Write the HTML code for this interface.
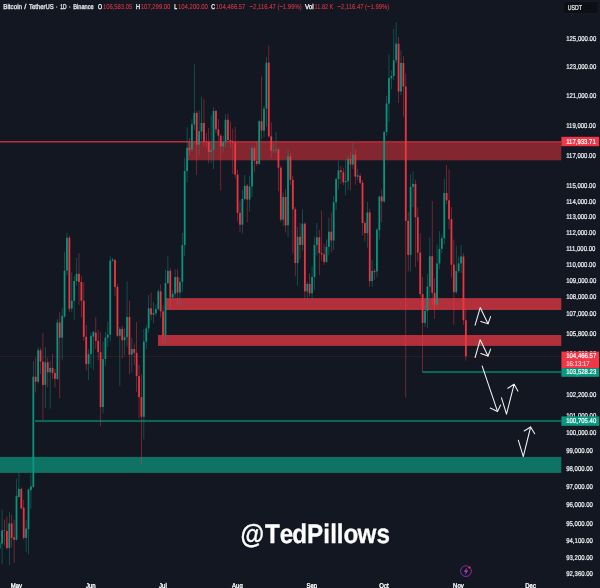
<!DOCTYPE html>
<html lang="en"><head><meta charset="utf-8"><title>Bitcoin / TetherUS - 1D - Binance</title>
<style>
html,body{margin:0;padding:0;background:#131722;}
body{width:600px;height:588px;overflow:hidden;font-family:"Liberation Sans",sans-serif;}
svg{display:block;position:absolute;left:0;top:0;}
text{font-family:"Liberation Sans",sans-serif;text-rendering:geometricPrecision;}
.ax{font-size:100px;fill:#eceef1;stroke:#eceef1;}
.lb{font-size:100px;fill:#ffffff;stroke:#ffffff;}
.hd{font-size:100px;fill:#f4f5f7;stroke:#f4f5f7;}
.hr{font-size:100px;fill:#dd3848;stroke:#dd3848;}
.mo{font-size:100px;fill:#f6f7f9;stroke:#f6f7f9;}
.wm{font-size:26.9px;font-weight:bold;fill:#ffffff;stroke:#ffffff;stroke-width:0.3px;}
</style></head><body>
<svg width="600" height="588" viewBox="0 0 600 588">
<rect x="0" y="0" width="600" height="588" fill="#131722"/>
<g id="zones">
<rect x="188" y="141.2" width="373.3" height="19.1" fill="#84262f"/>
<rect x="0" y="141.05" width="188.0" height="1.45" fill="#c4303e"/>
<rect x="188" y="141.05" width="373.3" height="1.7" fill="#a52c38"/>
<rect x="166" y="298.1" width="395.3" height="11.9" fill="#b2303b"/>
<rect x="158" y="335" width="403.3" height="10.9" fill="#b2303b"/>
<rect x="0" y="456.9" width="561.3" height="16" fill="#0e7364"/>
<rect x="35.2" y="419.95" width="526.1" height="2.1" fill="#0c6658"/>
<rect x="422.3" y="371.0" width="139.0" height="2.1" fill="#0c6658"/>
<rect x="0" y="355.95" width="561.3" height="0.7" fill="#f23645" opacity="0.2"/>
</g>
<g id="candles">
<g opacity="0.6"><rect x="-0.67" y="540.0" width="0.7" height="12.0" fill="#089981"/><rect x="1.73" y="509.6" width="0.7" height="54.1" fill="#089981"/><rect x="4.13" y="519.7" width="0.7" height="25.7" fill="#F23645"/><rect x="6.54" y="516.5" width="0.7" height="33.3" fill="#F23645"/><rect x="8.94" y="512.1" width="0.7" height="52.9" fill="#089981"/><rect x="11.34" y="514.7" width="0.7" height="32.6" fill="#F23645"/><rect x="13.75" y="519.7" width="0.7" height="43.3" fill="#F23645"/><rect x="16.15" y="478.8" width="0.7" height="61.7" fill="#089981"/><rect x="18.55" y="472.0" width="0.7" height="25.5" fill="#089981"/><rect x="20.95" y="487.5" width="0.7" height="21.5" fill="#F23645"/><rect x="23.36" y="499.6" width="0.7" height="40.2" fill="#F23645"/><rect x="25.76" y="519.7" width="0.7" height="32.0" fill="#089981"/><rect x="28.16" y="488.5" width="0.7" height="65.8" fill="#089981"/><rect x="30.57" y="473.8" width="0.7" height="35.2" fill="#089981"/><rect x="32.97" y="361.0" width="0.7" height="127.0" fill="#089981"/><rect x="35.37" y="357.8" width="0.7" height="34.6" fill="#F23645"/><rect x="37.77" y="347.2" width="0.7" height="36.4" fill="#089981"/><rect x="40.18" y="347.8" width="0.7" height="26.4" fill="#F23645"/><rect x="42.58" y="332.7" width="0.7" height="87.2" fill="#F23645"/><rect x="44.98" y="347.2" width="0.7" height="60.8" fill="#089981"/><rect x="47.39" y="357.8" width="0.7" height="29.6" fill="#F23645"/><rect x="49.79" y="361.0" width="0.7" height="47.6" fill="#089981"/><rect x="52.19" y="354.0" width="0.7" height="25.2" fill="#F23645"/><rect x="54.60" y="369.0" width="0.7" height="18.4" fill="#F23645"/><rect x="57.00" y="319.0" width="0.7" height="61.0" fill="#089981"/><rect x="59.40" y="312.2" width="0.7" height="85.8" fill="#F23645"/><rect x="61.80" y="307.7" width="0.7" height="52.7" fill="#089981"/><rect x="64.21" y="251.8" width="0.7" height="66.2" fill="#089981"/><rect x="66.61" y="232.7" width="0.7" height="42.3" fill="#089981"/><rect x="69.01" y="235.8" width="0.7" height="76.2" fill="#F23645"/><rect x="71.42" y="272.5" width="0.7" height="39.5" fill="#089981"/><rect x="73.82" y="276.0" width="0.7" height="43.7" fill="#089981"/><rect x="76.22" y="258.0" width="0.7" height="27.7" fill="#089981"/><rect x="78.63" y="253.0" width="0.7" height="51.6" fill="#F23645"/><rect x="81.03" y="276.3" width="0.7" height="40.9" fill="#F23645"/><rect x="83.43" y="282.6" width="0.7" height="58.3" fill="#F23645"/><rect x="85.84" y="325.0" width="0.7" height="45.4" fill="#F23645"/><rect x="88.24" y="349.0" width="0.7" height="30.9" fill="#089981"/><rect x="90.64" y="332.7" width="0.7" height="35.2" fill="#089981"/><rect x="93.04" y="330.8" width="0.7" height="39.0" fill="#089981"/><rect x="95.45" y="317.2" width="0.7" height="31.8" fill="#F23645"/><rect x="97.85" y="330.2" width="0.7" height="30.2" fill="#F23645"/><rect x="100.25" y="332.0" width="0.7" height="94.2" fill="#F23645"/><rect x="102.66" y="341.5" width="0.7" height="72.1" fill="#089981"/><rect x="105.06" y="332.0" width="0.7" height="34.0" fill="#089981"/><rect x="107.46" y="322.0" width="0.7" height="25.2" fill="#089981"/><rect x="109.87" y="256.2" width="0.7" height="85.3" fill="#089981"/><rect x="112.27" y="258.0" width="0.7" height="4.0" fill="#089981"/><rect x="114.67" y="258.5" width="0.7" height="37.3" fill="#F23645"/><rect x="117.07" y="283.8" width="0.7" height="53.2" fill="#F23645"/><rect x="119.48" y="327.0" width="0.7" height="59.2" fill="#089981"/><rect x="121.88" y="325.8" width="0.7" height="32.7" fill="#F23645"/><rect x="124.28" y="328.3" width="0.7" height="27.0" fill="#089981"/><rect x="126.69" y="281.3" width="0.7" height="65.2" fill="#089981"/><rect x="129.09" y="300.8" width="0.7" height="73.4" fill="#F23645"/><rect x="131.49" y="337.7" width="0.7" height="34.6" fill="#089981"/><rect x="133.90" y="343.4" width="0.7" height="21.4" fill="#F23645"/><rect x="136.30" y="322.0" width="0.7" height="69.8" fill="#F23645"/><rect x="138.70" y="364.8" width="0.7" height="53.2" fill="#F23645"/><rect x="141.10" y="374.2" width="0.7" height="91.0" fill="#F23645"/><rect x="143.51" y="329.0" width="0.7" height="110.4" fill="#089981"/><rect x="145.91" y="325.3" width="0.7" height="23.9" fill="#089981"/><rect x="148.31" y="295.0" width="0.7" height="37.8" fill="#089981"/><rect x="150.72" y="292.6" width="0.7" height="27.6" fill="#F23645"/><rect x="153.12" y="302.0" width="0.7" height="21.4" fill="#089981"/><rect x="155.52" y="304.5" width="0.7" height="11.3" fill="#089981"/><rect x="157.93" y="288.8" width="0.7" height="21.2" fill="#089981"/><rect x="160.33" y="284.4" width="0.7" height="33.3" fill="#F23645"/><rect x="162.73" y="305.2" width="0.7" height="37.8" fill="#F23645"/><rect x="165.13" y="269.5" width="0.7" height="74.5" fill="#089981"/><rect x="167.54" y="256.3" width="0.7" height="27.7" fill="#089981"/><rect x="169.94" y="268.3" width="0.7" height="40.7" fill="#F23645"/><rect x="172.34" y="290.0" width="0.7" height="10.0" fill="#089981"/><rect x="174.75" y="269.5" width="0.7" height="28.5" fill="#089981"/><rect x="177.15" y="269.5" width="0.7" height="35.0" fill="#F23645"/><rect x="179.55" y="278.0" width="0.7" height="27.8" fill="#089981"/><rect x="181.96" y="233.0" width="0.7" height="59.0" fill="#089981"/><rect x="184.36" y="157.8" width="0.7" height="98.5" fill="#089981"/><rect x="186.76" y="127.4" width="0.7" height="54.9" fill="#089981"/><rect x="189.16" y="138.0" width="0.7" height="17.0" fill="#F23645"/><rect x="191.57" y="119.2" width="0.7" height="32.8" fill="#089981"/><rect x="193.97" y="64.3" width="0.7" height="65.7" fill="#089981"/><rect x="196.37" y="111.0" width="0.7" height="63.8" fill="#F23645"/><rect x="198.78" y="110.4" width="0.7" height="44.9" fill="#089981"/><rect x="201.18" y="96.6" width="0.7" height="43.4" fill="#089981"/><rect x="203.58" y="99.1" width="0.7" height="46.9" fill="#F23645"/><rect x="205.99" y="133.0" width="0.7" height="14.0" fill="#F23645"/><rect x="208.39" y="128.0" width="0.7" height="35.4" fill="#F23645"/><rect x="210.79" y="115.4" width="0.7" height="47.4" fill="#089981"/><rect x="213.19" y="107.3" width="0.7" height="61.8" fill="#089981"/><rect x="215.60" y="109.5" width="0.7" height="23.5" fill="#F23645"/><rect x="218.00" y="119.2" width="0.7" height="21.4" fill="#F23645"/><rect x="220.40" y="134.3" width="0.7" height="56.2" fill="#F23645"/><rect x="222.81" y="135.6" width="0.7" height="17.2" fill="#089981"/><rect x="225.21" y="114.2" width="0.7" height="32.8" fill="#089981"/><rect x="227.61" y="113.6" width="0.7" height="29.4" fill="#F23645"/><rect x="230.02" y="121.7" width="0.7" height="26.3" fill="#F23645"/><rect x="232.42" y="128.7" width="0.7" height="45.4" fill="#F23645"/><rect x="234.82" y="126.8" width="0.7" height="51.5" fill="#F23645"/><rect x="237.22" y="169.7" width="0.7" height="51.9" fill="#F23645"/><rect x="239.63" y="200.8" width="0.7" height="31.5" fill="#F23645"/><rect x="242.03" y="189.5" width="0.7" height="44.0" fill="#089981"/><rect x="244.43" y="175.0" width="0.7" height="25.0" fill="#089981"/><rect x="246.84" y="184.0" width="0.7" height="38.2" fill="#F23645"/><rect x="249.24" y="175.7" width="0.7" height="35.8" fill="#089981"/><rect x="251.64" y="145.7" width="0.7" height="51.3" fill="#089981"/><rect x="254.05" y="146.5" width="0.7" height="25.5" fill="#F23645"/><rect x="256.45" y="142.0" width="0.7" height="23.8" fill="#F23645"/><rect x="258.85" y="120.0" width="0.7" height="45.0" fill="#089981"/><rect x="261.25" y="76.5" width="0.7" height="62.9" fill="#F23645"/><rect x="263.66" y="106.0" width="0.7" height="31.5" fill="#089981"/><rect x="266.06" y="57.0" width="0.7" height="69.8" fill="#089981"/><rect x="268.46" y="45.7" width="0.7" height="92.3" fill="#F23645"/><rect x="270.87" y="122.4" width="0.7" height="35.9" fill="#F23645"/><rect x="273.27" y="142.5" width="0.7" height="10.7" fill="#089981"/><rect x="275.67" y="131.8" width="0.7" height="21.2" fill="#089981"/><rect x="278.07" y="148.0" width="0.7" height="43.4" fill="#F23645"/><rect x="280.48" y="166.0" width="0.7" height="56.0" fill="#F23645"/><rect x="282.88" y="192.6" width="0.7" height="33.4" fill="#089981"/><rect x="285.28" y="188.9" width="0.7" height="43.4" fill="#F23645"/><rect x="287.69" y="149.5" width="0.7" height="87.8" fill="#089981"/><rect x="290.09" y="153.2" width="0.7" height="31.8" fill="#F23645"/><rect x="292.49" y="176.0" width="0.7" height="77.7" fill="#F23645"/><rect x="294.90" y="207.0" width="0.7" height="69.3" fill="#F23645"/><rect x="297.30" y="227.0" width="0.7" height="58.8" fill="#089981"/><rect x="299.70" y="223.0" width="0.7" height="35.7" fill="#F23645"/><rect x="302.10" y="209.3" width="0.7" height="41.2" fill="#089981"/><rect x="304.51" y="222.0" width="0.7" height="78.0" fill="#F23645"/><rect x="306.91" y="282.0" width="0.7" height="18.0" fill="#089981"/><rect x="309.31" y="273.2" width="0.7" height="23.3" fill="#F23645"/><rect x="311.72" y="266.3" width="0.7" height="33.7" fill="#089981"/><rect x="314.12" y="236.7" width="0.7" height="53.5" fill="#089981"/><rect x="316.52" y="223.1" width="0.7" height="32.5" fill="#089981"/><rect x="318.93" y="229.8" width="0.7" height="45.3" fill="#F23645"/><rect x="321.33" y="210.5" width="0.7" height="50.1" fill="#F23645"/><rect x="323.73" y="244.2" width="0.7" height="20.8" fill="#F23645"/><rect x="326.13" y="239.2" width="0.7" height="23.8" fill="#089981"/><rect x="328.54" y="217.4" width="0.7" height="37.6" fill="#089981"/><rect x="330.94" y="212.4" width="0.7" height="40.0" fill="#F23645"/><rect x="333.34" y="196.0" width="0.7" height="54.0" fill="#089981"/><rect x="335.75" y="177.5" width="0.7" height="32.4" fill="#089981"/><rect x="338.15" y="160.9" width="0.7" height="28.8" fill="#089981"/><rect x="340.55" y="165.9" width="0.7" height="18.2" fill="#F23645"/><rect x="342.96" y="167.8" width="0.7" height="17.2" fill="#F23645"/><rect x="345.36" y="159.6" width="0.7" height="35.8" fill="#089981"/><rect x="347.76" y="155.5" width="0.7" height="34.2" fill="#089981"/><rect x="350.16" y="151.5" width="0.7" height="38.9" fill="#F23645"/><rect x="352.57" y="142.7" width="0.7" height="26.3" fill="#089981"/><rect x="354.97" y="149.0" width="0.7" height="35.7" fill="#F23645"/><rect x="357.37" y="168.7" width="0.7" height="11.6" fill="#089981"/><rect x="359.78" y="173.4" width="0.7" height="10.6" fill="#F23645"/><rect x="362.18" y="180.0" width="0.7" height="55.6" fill="#F23645"/><rect x="364.58" y="221.0" width="0.7" height="20.4" fill="#F23645"/><rect x="366.99" y="202.0" width="0.7" height="45.7" fill="#089981"/><rect x="369.39" y="209.0" width="0.7" height="77.7" fill="#F23645"/><rect x="371.79" y="260.3" width="0.7" height="26.4" fill="#089981"/><rect x="374.19" y="269.0" width="0.7" height="10.8" fill="#F23645"/><rect x="376.60" y="228.0" width="0.7" height="49.3" fill="#089981"/><rect x="379.00" y="196.4" width="0.7" height="43.1" fill="#089981"/><rect x="381.40" y="189.5" width="0.7" height="32.7" fill="#F23645"/><rect x="383.81" y="131.0" width="0.7" height="72.0" fill="#089981"/><rect x="386.21" y="96.0" width="0.7" height="39.7" fill="#089981"/><rect x="388.61" y="54.0" width="0.7" height="67.7" fill="#089981"/><rect x="391.02" y="70.4" width="0.7" height="18.6" fill="#089981"/><rect x="393.42" y="28.9" width="0.7" height="51.1" fill="#089981"/><rect x="395.82" y="22.0" width="0.7" height="41.0" fill="#089981"/><rect x="398.22" y="37.0" width="0.7" height="65.9" fill="#F23645"/><rect x="400.63" y="50.3" width="0.7" height="45.0" fill="#089981"/><rect x="403.03" y="56.0" width="0.7" height="60.7" fill="#F23645"/><rect x="405.43" y="73.5" width="0.7" height="324.3" fill="#F23645"/><rect x="407.84" y="212.0" width="0.7" height="59.6" fill="#F23645"/><rect x="410.24" y="174.4" width="0.7" height="97.2" fill="#089981"/><rect x="412.64" y="171.3" width="0.7" height="35.7" fill="#089981"/><rect x="415.05" y="179.7" width="0.7" height="87.2" fill="#F23645"/><rect x="417.45" y="207.4" width="0.7" height="54.4" fill="#F23645"/><rect x="419.85" y="233.2" width="0.7" height="63.8" fill="#F23645"/><rect x="422.25" y="277.1" width="0.7" height="94.9" fill="#F23645"/><rect x="424.66" y="305.0" width="0.7" height="22.0" fill="#089981"/><rect x="427.06" y="274.0" width="0.7" height="53.9" fill="#089981"/><rect x="429.46" y="237.3" width="0.7" height="60.4" fill="#089981"/><rect x="431.87" y="201.1" width="0.7" height="104.8" fill="#F23645"/><rect x="434.27" y="278.3" width="0.7" height="40.7" fill="#F23645"/><rect x="436.67" y="244.5" width="0.7" height="61.5" fill="#089981"/><rect x="439.08" y="231.2" width="0.7" height="37.8" fill="#089981"/><rect x="441.48" y="234.5" width="0.7" height="18.8" fill="#089981"/><rect x="443.88" y="178.9" width="0.7" height="65.6" fill="#089981"/><rect x="446.28" y="165.0" width="0.7" height="39.0" fill="#F23645"/><rect x="448.69" y="169.4" width="0.7" height="59.8" fill="#F23645"/><rect x="451.09" y="207.2" width="0.7" height="70.5" fill="#F23645"/><rect x="453.49" y="239.5" width="0.7" height="85.2" fill="#F23645"/><rect x="455.90" y="245.8" width="0.7" height="48.2" fill="#089981"/><rect x="458.30" y="256.5" width="0.7" height="16.4" fill="#089981"/><rect x="460.70" y="245.2" width="0.7" height="27.7" fill="#089981"/><rect x="463.11" y="253.3" width="0.7" height="71.7" fill="#F23645"/><rect x="465.51" y="308.3" width="0.7" height="52.3" fill="#F23645"/></g>
<g opacity="0.95"><rect x="-1.22" y="543.0" width="1.8" height="5.3" fill="#089981"/><rect x="1.18" y="530.4" width="1.8" height="13.2" fill="#089981"/><rect x="3.58" y="530.3" width="1.8" height="0.6" fill="#F23645"/><rect x="5.99" y="531.0" width="1.8" height="17.0" fill="#F23645"/><rect x="8.39" y="523.4" width="1.8" height="24.6" fill="#089981"/><rect x="10.79" y="523.4" width="1.8" height="14.5" fill="#F23645"/><rect x="13.20" y="537.3" width="1.8" height="2.5" fill="#F23645"/><rect x="15.60" y="495.8" width="1.8" height="44.0" fill="#089981"/><rect x="18.00" y="488.9" width="1.8" height="8.1" fill="#089981"/><rect x="20.40" y="488.9" width="1.8" height="19.5" fill="#F23645"/><rect x="22.81" y="507.7" width="1.8" height="30.2" fill="#F23645"/><rect x="25.21" y="528.5" width="1.8" height="9.4" fill="#089981"/><rect x="27.61" y="489.5" width="1.8" height="39.6" fill="#089981"/><rect x="30.02" y="486.4" width="1.8" height="3.7" fill="#089981"/><rect x="32.42" y="376.7" width="1.8" height="110.3" fill="#089981"/><rect x="34.82" y="376.7" width="1.8" height="5.0" fill="#F23645"/><rect x="37.23" y="350.3" width="1.8" height="31.4" fill="#089981"/><rect x="39.63" y="350.3" width="1.8" height="11.3" fill="#F23645"/><rect x="42.03" y="361.6" width="1.8" height="23.3" fill="#F23645"/><rect x="44.43" y="362.3" width="1.8" height="22.6" fill="#089981"/><rect x="46.84" y="362.3" width="1.8" height="10.0" fill="#F23645"/><rect x="49.24" y="367.9" width="1.8" height="4.4" fill="#089981"/><rect x="51.64" y="367.9" width="1.8" height="5.1" fill="#F23645"/><rect x="54.05" y="373.0" width="1.8" height="5.9" fill="#F23645"/><rect x="56.45" y="322.5" width="1.8" height="56.4" fill="#089981"/><rect x="58.85" y="322.5" width="1.8" height="15.2" fill="#F23645"/><rect x="61.26" y="315.9" width="1.8" height="21.8" fill="#089981"/><rect x="63.66" y="270.6" width="1.8" height="46.0" fill="#089981"/><rect x="66.06" y="237.7" width="1.8" height="32.9" fill="#089981"/><rect x="68.46" y="237.7" width="1.8" height="71.3" fill="#F23645"/><rect x="70.87" y="300.8" width="1.8" height="7.6" fill="#089981"/><rect x="73.27" y="281.0" width="1.8" height="19.8" fill="#089981"/><rect x="75.67" y="273.8" width="1.8" height="7.2" fill="#089981"/><rect x="78.08" y="273.8" width="1.8" height="8.2" fill="#F23645"/><rect x="80.48" y="282.0" width="1.8" height="18.8" fill="#F23645"/><rect x="82.88" y="300.8" width="1.8" height="36.0" fill="#F23645"/><rect x="85.28" y="336.8" width="1.8" height="27.3" fill="#F23645"/><rect x="87.69" y="354.1" width="1.8" height="10.0" fill="#089981"/><rect x="90.09" y="335.8" width="1.8" height="18.3" fill="#089981"/><rect x="92.49" y="332.0" width="1.8" height="4.5" fill="#089981"/><rect x="94.90" y="332.7" width="1.8" height="8.2" fill="#F23645"/><rect x="97.30" y="340.9" width="1.8" height="11.3" fill="#F23645"/><rect x="99.70" y="352.2" width="1.8" height="54.9" fill="#F23645"/><rect x="102.11" y="359.1" width="1.8" height="48.0" fill="#089981"/><rect x="104.51" y="337.7" width="1.8" height="21.4" fill="#089981"/><rect x="106.91" y="334.6" width="1.8" height="3.1" fill="#089981"/><rect x="109.31" y="260.6" width="1.8" height="74.0" fill="#089981"/><rect x="111.72" y="259.5" width="1.8" height="1.1" fill="#089981"/><rect x="114.12" y="260.0" width="1.8" height="27.0" fill="#F23645"/><rect x="116.52" y="287.0" width="1.8" height="48.8" fill="#F23645"/><rect x="118.93" y="328.9" width="1.8" height="6.9" fill="#089981"/><rect x="121.33" y="328.9" width="1.8" height="11.3" fill="#F23645"/><rect x="123.73" y="337.1" width="1.8" height="3.1" fill="#089981"/><rect x="126.14" y="316.9" width="1.8" height="20.2" fill="#089981"/><rect x="128.54" y="316.9" width="1.8" height="37.8" fill="#F23645"/><rect x="130.94" y="349.0" width="1.8" height="5.7" fill="#089981"/><rect x="133.34" y="349.0" width="1.8" height="3.8" fill="#F23645"/><rect x="135.75" y="352.8" width="1.8" height="23.3" fill="#F23645"/><rect x="138.15" y="376.1" width="1.8" height="20.9" fill="#F23645"/><rect x="140.55" y="397.0" width="1.8" height="19.8" fill="#F23645"/><rect x="142.96" y="341.6" width="1.8" height="75.2" fill="#089981"/><rect x="145.36" y="328.4" width="1.8" height="13.2" fill="#089981"/><rect x="147.76" y="308.3" width="1.8" height="20.1" fill="#089981"/><rect x="150.17" y="308.3" width="1.8" height="6.3" fill="#F23645"/><rect x="152.57" y="313.0" width="1.8" height="1.6" fill="#089981"/><rect x="154.97" y="309.0" width="1.8" height="4.3" fill="#089981"/><rect x="157.38" y="291.3" width="1.8" height="17.7" fill="#089981"/><rect x="159.78" y="291.3" width="1.8" height="20.1" fill="#F23645"/><rect x="162.18" y="311.4" width="1.8" height="23.9" fill="#F23645"/><rect x="164.58" y="283.1" width="1.8" height="52.2" fill="#089981"/><rect x="166.99" y="270.8" width="1.8" height="12.3" fill="#089981"/><rect x="169.39" y="270.8" width="1.8" height="26.8" fill="#F23645"/><rect x="171.79" y="293.8" width="1.8" height="3.8" fill="#089981"/><rect x="174.20" y="277.0" width="1.8" height="16.8" fill="#089981"/><rect x="176.60" y="277.0" width="1.8" height="15.6" fill="#F23645"/><rect x="179.00" y="281.9" width="1.8" height="10.7" fill="#089981"/><rect x="181.41" y="245.0" width="1.8" height="36.9" fill="#089981"/><rect x="183.81" y="171.0" width="1.8" height="74.0" fill="#089981"/><rect x="186.21" y="147.8" width="1.8" height="23.2" fill="#089981"/><rect x="188.61" y="147.8" width="1.8" height="2.0" fill="#F23645"/><rect x="191.02" y="124.3" width="1.8" height="25.1" fill="#089981"/><rect x="193.42" y="112.9" width="1.8" height="11.7" fill="#089981"/><rect x="195.82" y="112.9" width="1.8" height="31.7" fill="#F23645"/><rect x="198.23" y="131.2" width="1.8" height="13.4" fill="#089981"/><rect x="200.63" y="123.0" width="1.8" height="8.5" fill="#089981"/><rect x="203.03" y="123.0" width="1.8" height="18.9" fill="#F23645"/><rect x="205.44" y="141.9" width="1.8" height="0.6" fill="#F23645"/><rect x="207.84" y="141.9" width="1.8" height="10.1" fill="#F23645"/><rect x="210.24" y="150.2" width="1.8" height="1.8" fill="#089981"/><rect x="212.64" y="111.0" width="1.8" height="39.2" fill="#089981"/><rect x="215.05" y="111.0" width="1.8" height="18.3" fill="#F23645"/><rect x="217.45" y="129.3" width="1.8" height="6.3" fill="#F23645"/><rect x="219.85" y="135.6" width="1.8" height="10.8" fill="#F23645"/><rect x="222.26" y="142.0" width="1.8" height="4.4" fill="#089981"/><rect x="224.66" y="119.8" width="1.8" height="22.2" fill="#089981"/><rect x="227.06" y="119.8" width="1.8" height="20.2" fill="#F23645"/><rect x="229.47" y="140.0" width="1.8" height="1.2" fill="#F23645"/><rect x="231.87" y="141.2" width="1.8" height="1.3" fill="#F23645"/><rect x="234.27" y="142.5" width="1.8" height="32.1" fill="#F23645"/><rect x="236.67" y="174.6" width="1.8" height="38.2" fill="#F23645"/><rect x="239.08" y="212.8" width="1.8" height="11.9" fill="#F23645"/><rect x="241.48" y="198.9" width="1.8" height="25.8" fill="#089981"/><rect x="243.88" y="185.7" width="1.8" height="13.2" fill="#089981"/><rect x="246.29" y="185.7" width="1.8" height="13.9" fill="#F23645"/><rect x="248.69" y="186.4" width="1.8" height="13.2" fill="#089981"/><rect x="251.09" y="148.2" width="1.8" height="38.2" fill="#089981"/><rect x="253.50" y="148.2" width="1.8" height="12.6" fill="#F23645"/><rect x="255.90" y="160.8" width="1.8" height="3.1" fill="#F23645"/><rect x="258.30" y="121.2" width="1.8" height="42.7" fill="#089981"/><rect x="260.70" y="121.2" width="1.8" height="9.4" fill="#F23645"/><rect x="263.11" y="108.6" width="1.8" height="22.0" fill="#089981"/><rect x="265.51" y="62.7" width="1.8" height="45.9" fill="#089981"/><rect x="267.91" y="62.7" width="1.8" height="73.6" fill="#F23645"/><rect x="270.32" y="136.3" width="1.8" height="14.4" fill="#F23645"/><rect x="272.72" y="150.0" width="1.8" height="0.8" fill="#089981"/><rect x="275.12" y="149.5" width="1.8" height="1.0" fill="#089981"/><rect x="277.53" y="149.5" width="1.8" height="18.2" fill="#F23645"/><rect x="279.93" y="167.7" width="1.8" height="52.0" fill="#F23645"/><rect x="282.33" y="197.0" width="1.8" height="22.7" fill="#089981"/><rect x="284.73" y="197.0" width="1.8" height="28.3" fill="#F23645"/><rect x="287.14" y="156.4" width="1.8" height="68.9" fill="#089981"/><rect x="289.54" y="156.4" width="1.8" height="23.4" fill="#F23645"/><rect x="291.94" y="179.8" width="1.8" height="29.5" fill="#F23645"/><rect x="294.35" y="209.3" width="1.8" height="53.8" fill="#F23645"/><rect x="296.75" y="236.7" width="1.8" height="26.4" fill="#089981"/><rect x="299.15" y="236.7" width="1.8" height="8.2" fill="#F23645"/><rect x="301.56" y="223.7" width="1.8" height="21.2" fill="#089981"/><rect x="303.96" y="223.7" width="1.8" height="67.7" fill="#F23645"/><rect x="306.36" y="283.9" width="1.8" height="7.5" fill="#089981"/><rect x="308.76" y="283.9" width="1.8" height="9.4" fill="#F23645"/><rect x="311.17" y="277.0" width="1.8" height="16.3" fill="#089981"/><rect x="313.57" y="244.9" width="1.8" height="32.1" fill="#089981"/><rect x="315.97" y="237.3" width="1.8" height="7.6" fill="#089981"/><rect x="318.38" y="237.3" width="1.8" height="15.8" fill="#F23645"/><rect x="320.78" y="253.1" width="1.8" height="1.2" fill="#F23645"/><rect x="323.18" y="254.3" width="1.8" height="7.6" fill="#F23645"/><rect x="325.59" y="246.8" width="1.8" height="15.1" fill="#089981"/><rect x="327.99" y="231.7" width="1.8" height="15.1" fill="#089981"/><rect x="330.39" y="231.7" width="1.8" height="8.8" fill="#F23645"/><rect x="332.79" y="202.3" width="1.8" height="38.2" fill="#089981"/><rect x="335.20" y="179.0" width="1.8" height="23.3" fill="#089981"/><rect x="337.60" y="170.3" width="1.8" height="8.7" fill="#089981"/><rect x="340.00" y="170.3" width="1.8" height="1.9" fill="#F23645"/><rect x="342.41" y="172.2" width="1.8" height="10.1" fill="#F23645"/><rect x="344.81" y="181.0" width="1.8" height="1.3" fill="#089981"/><rect x="347.21" y="159.0" width="1.8" height="22.3" fill="#089981"/><rect x="349.62" y="159.0" width="1.8" height="5.6" fill="#F23645"/><rect x="352.02" y="154.6" width="1.8" height="10.0" fill="#089981"/><rect x="354.42" y="154.6" width="1.8" height="22.0" fill="#F23645"/><rect x="356.82" y="175.3" width="1.8" height="1.3" fill="#089981"/><rect x="359.23" y="175.8" width="1.8" height="6.9" fill="#F23645"/><rect x="361.63" y="182.7" width="1.8" height="40.3" fill="#F23645"/><rect x="364.03" y="223.0" width="1.8" height="10.2" fill="#F23645"/><rect x="366.44" y="212.4" width="1.8" height="20.8" fill="#089981"/><rect x="368.84" y="212.4" width="1.8" height="68.7" fill="#F23645"/><rect x="371.24" y="271.0" width="1.8" height="10.1" fill="#089981"/><rect x="373.65" y="271.0" width="1.8" height="1.2" fill="#F23645"/><rect x="376.05" y="229.7" width="1.8" height="41.8" fill="#089981"/><rect x="378.45" y="196.4" width="1.8" height="33.6" fill="#089981"/><rect x="380.85" y="196.4" width="1.8" height="5.0" fill="#F23645"/><rect x="383.26" y="131.9" width="1.8" height="69.5" fill="#089981"/><rect x="385.66" y="103.5" width="1.8" height="28.4" fill="#089981"/><rect x="388.06" y="78.0" width="1.8" height="25.5" fill="#089981"/><rect x="390.47" y="76.0" width="1.8" height="2.3" fill="#089981"/><rect x="392.87" y="60.3" width="1.8" height="15.7" fill="#089981"/><rect x="395.27" y="43.7" width="1.8" height="16.6" fill="#089981"/><rect x="397.68" y="43.7" width="1.8" height="47.8" fill="#F23645"/><rect x="400.08" y="62.9" width="1.8" height="28.6" fill="#089981"/><rect x="402.48" y="62.9" width="1.8" height="23.6" fill="#F23645"/><rect x="404.88" y="86.5" width="1.8" height="134.4" fill="#F23645"/><rect x="407.29" y="220.9" width="1.8" height="34.0" fill="#F23645"/><rect x="409.69" y="186.9" width="1.8" height="68.0" fill="#089981"/><rect x="412.09" y="183.9" width="1.8" height="3.0" fill="#089981"/><rect x="414.50" y="183.9" width="1.8" height="33.3" fill="#F23645"/><rect x="416.90" y="217.2" width="1.8" height="35.5" fill="#F23645"/><rect x="419.30" y="252.7" width="1.8" height="41.4" fill="#F23645"/><rect x="421.70" y="294.1" width="1.8" height="28.8" fill="#F23645"/><rect x="424.11" y="310.9" width="1.8" height="12.0" fill="#089981"/><rect x="426.51" y="286.6" width="1.8" height="24.3" fill="#089981"/><rect x="428.91" y="256.2" width="1.8" height="30.4" fill="#089981"/><rect x="431.32" y="256.2" width="1.8" height="36.6" fill="#F23645"/><rect x="433.72" y="292.8" width="1.8" height="11.8" fill="#F23645"/><rect x="436.12" y="263.4" width="1.8" height="41.2" fill="#089981"/><rect x="438.53" y="248.9" width="1.8" height="14.5" fill="#089981"/><rect x="440.93" y="238.2" width="1.8" height="10.7" fill="#089981"/><rect x="443.33" y="193.0" width="1.8" height="45.2" fill="#089981"/><rect x="445.74" y="193.0" width="1.8" height="7.3" fill="#F23645"/><rect x="448.14" y="200.3" width="1.8" height="18.8" fill="#F23645"/><rect x="450.54" y="219.1" width="1.8" height="45.6" fill="#F23645"/><rect x="452.94" y="264.7" width="1.8" height="27.5" fill="#F23645"/><rect x="455.35" y="271.1" width="1.8" height="21.1" fill="#089981"/><rect x="457.75" y="263.4" width="1.8" height="7.7" fill="#089981"/><rect x="460.15" y="256.5" width="1.8" height="6.9" fill="#089981"/><rect x="462.56" y="256.5" width="1.8" height="63.8" fill="#F23645"/><rect x="464.96" y="320.3" width="1.8" height="36.0" fill="#F23645"/></g>
</g>
<g id="arrows" fill="none" stroke="#f4f4f6" stroke-width="1.05" stroke-linecap="round" stroke-linejoin="round">
<polyline points="475.1,325.2 480.2,307.6 488,323.7"/>
<polyline points="480.8,321.4 488,323.7 490.6,316.6"/>
<polyline points="475.1,357.5 480.2,339.7 488,356"/>
<polyline points="480.8,353.5 488,356 490.6,349.1"/>
<polyline points="482.2,366.1 497.5,411.4"/>
<polyline points="490.2,408.1 497.5,411.4 500.6,405"/>
<polyline points="501.5,397.8 506.5,414.1 514.1,384.3"/>
<polyline points="507.8,388.3 514.1,384.3 517.9,391.1"/>
<polyline points="518.3,440.2 523.3,456.6 530.6,427"/>
<polyline points="524.2,431 530.6,427 534.7,433.7"/>
</g>
<g id="axis">
<text class="ax" transform="translate(566.20 40.85) scale(0.06000 0.07000)" stroke-width="3.4">125,000.00</text>
<text class="ax" transform="translate(566.20 69.35) scale(0.06000 0.07000)" stroke-width="3.4">123,000.00</text>
<text class="ax" transform="translate(566.20 98.31) scale(0.06000 0.07000)" stroke-width="3.4">121,000.00</text>
<text class="ax" transform="translate(566.20 127.77) scale(0.06000 0.07000)" stroke-width="3.4">119,000.00</text>
<text class="ax" transform="translate(566.20 157.72) scale(0.06000 0.07000)" stroke-width="3.4">117,000.00</text>
<text class="ax" transform="translate(566.20 188.18) scale(0.06000 0.07000)" stroke-width="3.4">115,000.00</text>
<text class="ax" transform="translate(566.20 203.61) scale(0.06000 0.07000)" stroke-width="3.4">114,000.00</text>
<text class="ax" transform="translate(566.20 219.18) scale(0.06000 0.07000)" stroke-width="3.4">113,000.00</text>
<text class="ax" transform="translate(566.20 234.89) scale(0.06000 0.07000)" stroke-width="3.4">112,000.00</text>
<text class="ax" transform="translate(566.20 250.74) scale(0.06000 0.07000)" stroke-width="3.4">111,000.00</text>
<text class="ax" transform="translate(566.20 266.73) scale(0.06000 0.07000)" stroke-width="3.4">110,000.00</text>
<text class="ax" transform="translate(566.20 282.87) scale(0.06000 0.07000)" stroke-width="3.4">109,000.00</text>
<text class="ax" transform="translate(566.20 299.15) scale(0.06000 0.07000)" stroke-width="3.4">108,000.00</text>
<text class="ax" transform="translate(566.20 315.59) scale(0.06000 0.07000)" stroke-width="3.4">107,000.00</text>
<text class="ax" transform="translate(566.20 335.52) scale(0.06000 0.07000)" stroke-width="3.4">105,800.00</text>
<text class="ax" transform="translate(566.20 355.67) scale(0.06000 0.07000)" stroke-width="3.4">104,600.00</text>
<text class="ax" transform="translate(566.20 376.06) scale(0.06000 0.07000)" stroke-width="3.4">103,400.00</text>
<text class="ax" transform="translate(566.20 396.69) scale(0.06000 0.07000)" stroke-width="3.4">102,200.00</text>
<text class="ax" transform="translate(566.20 417.56) scale(0.06000 0.07000)" stroke-width="3.4">101,000.00</text>
<text class="ax" transform="translate(566.20 435.14) scale(0.06000 0.07000)" stroke-width="3.4">100,000.00</text>
<text class="ax" transform="translate(566.20 452.90) scale(0.06000 0.07000)" stroke-width="3.4">99,000.00</text>
<text class="ax" transform="translate(566.20 470.84) scale(0.06000 0.07000)" stroke-width="3.4">98,000.00</text>
<text class="ax" transform="translate(566.20 488.96) scale(0.06000 0.07000)" stroke-width="3.4">97,000.00</text>
<text class="ax" transform="translate(566.20 507.27) scale(0.06000 0.07000)" stroke-width="3.4">96,000.00</text>
<text class="ax" transform="translate(566.20 525.78) scale(0.06000 0.07000)" stroke-width="3.4">95,000.00</text>
<text class="ax" transform="translate(566.20 542.60) scale(0.06000 0.07000)" stroke-width="3.4">94,100.00</text>
<text class="ax" transform="translate(566.20 559.58) scale(0.06000 0.07000)" stroke-width="3.4">93,200.00</text>
<text class="ax" transform="translate(566.20 575.58) scale(0.06000 0.07000)" stroke-width="3.4">92,360.00</text>
<rect x="561.4" y="136.8" width="37.7" height="9.4" fill="#F23645"/>
<text class="lb" transform="translate(566.20 143.60) scale(0.06000 0.07000)" stroke-width="3.1">117,933.71</text>
<rect x="561.4" y="351.6" width="37.7" height="16.5" fill="#F23645"/>
<text class="lb" transform="translate(566.20 358.10) scale(0.06000 0.07000)" stroke-width="3.1">104,466.57</text>
<text class="lb" transform="translate(566.20 365.50) scale(0.06000 0.07000)" stroke-width="3.1" fill-opacity="0.8" stroke-opacity="0.5">16:13:17</text>
<rect x="561.4" y="368.1" width="37.7" height="8.7" fill="#089981"/>
<text class="lb" transform="translate(566.20 374.30) scale(0.06000 0.07000)" stroke-width="3.1">103,528.23</text>
<rect x="561.4" y="416.4" width="37.7" height="9.4" fill="#089981"/>
<text class="lb" transform="translate(566.20 423.00) scale(0.06000 0.07000)" stroke-width="3.1">100,705.40</text>
<rect x="563.6" y="1.5" width="34.5" height="12" rx="1.6" fill="#0d0f14" stroke="#20232c" stroke-width="0.5"/>
<text class="ax" transform="translate(567.80 9.90) scale(0.05180 0.07000)" stroke-width="3.4">USDT</text>
</g>
<g id="header">
<text class="hd" transform="translate(0 8.90) scale(0.05850 0.07000)" stroke-width="3.6" xml:space="preserve"><tspan x="54.7" textLength="323.1" lengthAdjust="spacingAndGlyphs">Bitcoin</tspan> <tspan x="415.4" textLength="35.9" lengthAdjust="spacingAndGlyphs">/</tspan> <tspan x="495.7" textLength="422.2" lengthAdjust="spacingAndGlyphs">TetherUS</tspan> <tspan x="957.3" textLength="27.4" lengthAdjust="spacingAndGlyphs">·</tspan> <tspan x="1029.1" textLength="109.4" lengthAdjust="spacingAndGlyphs">1D</tspan> <tspan x="1179.5" textLength="27.4" lengthAdjust="spacingAndGlyphs">·</tspan> <tspan x="1251.3" textLength="350.4" lengthAdjust="spacingAndGlyphs">Binance</tspan></text>
<text class="hd" transform="translate(97.90 8.90) scale(0.05400 0.07000)" stroke-width="4.6">O</text>
<text class="hr" transform="translate(102.90 8.90) scale(0.05855 0.07000)" stroke-width="0.9">106,583.05</text>
<text class="hd" transform="translate(135.90 8.90) scale(0.05539 0.07000)" stroke-width="4.6">H</text>
<text class="hr" transform="translate(140.80 8.90) scale(0.05915 0.07000)" stroke-width="0.9">107,299.00</text>
<text class="hd" transform="translate(174.30 8.90) scale(0.05215 0.07000)" stroke-width="4.6">L</text>
<text class="hr" transform="translate(177.90 8.90) scale(0.05995 0.07000)" stroke-width="0.9">104,200.00</text>
<text class="hd" transform="translate(211.30 8.90) scale(0.05262 0.07000)" stroke-width="4.6">C</text>
<text class="hr" transform="translate(215.80 8.90) scale(0.05915 0.07000)" stroke-width="0.9">104,466.57</text>
<text class="hr" transform="translate(249.60 8.90) scale(0.05944 0.07000)" stroke-width="0.9">−2,116.47 (−1.99%)</text>
<text class="hd" transform="translate(305.00 8.90) scale(0.06258 0.07000)" stroke-width="4.6">Vol</text>
<text class="hr" transform="translate(314.60 8.90) scale(0.05544 0.07000)" stroke-width="0.9">11.82 K</text>
<text class="hr" transform="translate(337.50 8.90) scale(0.05898 0.07000)" stroke-width="0.9">−2,116.47 (−1.99%)</text>
</g>
<g id="months">
<text class="mo" transform="translate(10.63 588.30) scale(0.06000 0.07000)" stroke-width="5.7">May</text>
<text class="mo" transform="translate(85.95 588.30) scale(0.06000 0.07000)" stroke-width="5.7">Jun</text>
<text class="mo" transform="translate(159.05 588.30) scale(0.06000 0.07000)" stroke-width="5.7">Jul</text>
<text class="mo" transform="translate(232.04 588.30) scale(0.06000 0.07000)" stroke-width="5.7">Aug</text>
<text class="mo" transform="translate(306.53 588.30) scale(0.06000 0.07000)" stroke-width="5.7">Sep</text>
<text class="mo" transform="translate(379.29 588.30) scale(0.06000 0.07000)" stroke-width="5.7">Oct</text>
<text class="mo" transform="translate(453.12 588.30) scale(0.06000 0.07000)" stroke-width="5.7">Nov</text>
<text class="mo" transform="translate(525.21 588.30) scale(0.06000 0.07000)" stroke-width="5.7">Dec</text>
</g>
<text class="wm" transform="translate(0 542.8) scale(0.900 1)" x="267.28 294.39 310.80 324.78 341.03 359.21 366.82 374.04 381.78 397.33 418.30" y="0">@TedPillows</text>
<g id="flash">
<circle cx="466" cy="571.1" r="5.4" fill="none" stroke="#8f2ba8" stroke-width="0.95"/>
<path d="M467.4 567.3 L463.8 571.8 L466 571.8 L464.8 575 L468.3 570.5 L466.1 570.5 Z" fill="#b646d0"/>
<circle cx="469.4" cy="567.5" r="1.45" fill="#f23645" stroke="#131722" stroke-width="0.7"/>
</g>
</svg>
</body></html>
